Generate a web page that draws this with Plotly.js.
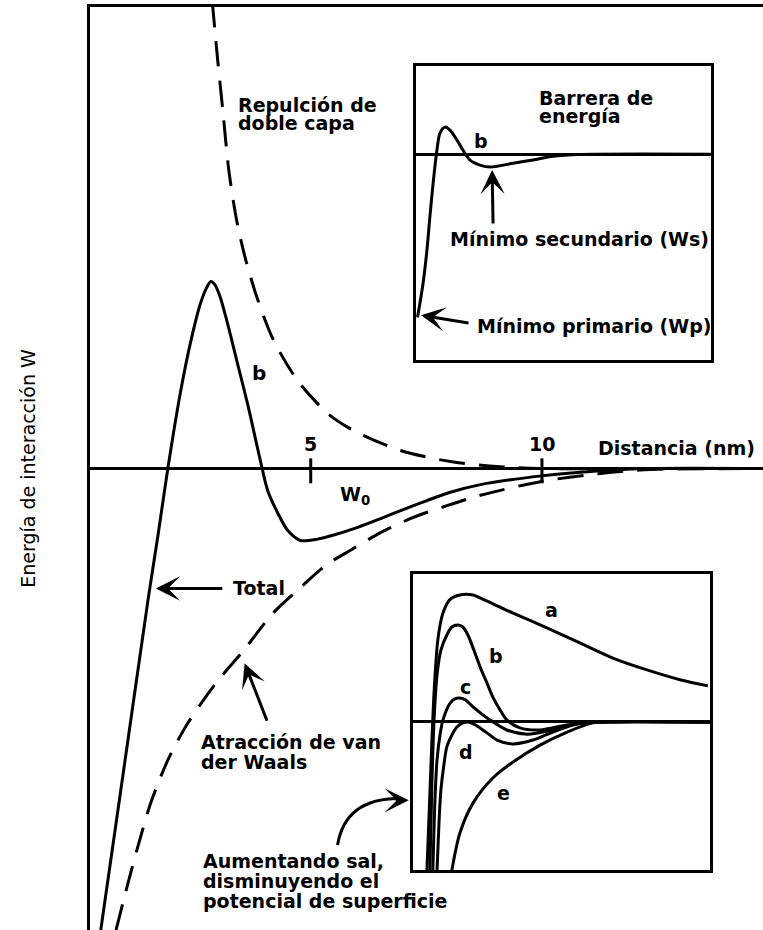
<!DOCTYPE html>
<html>
<head>
<meta charset="utf-8">
<script src="https://cdn.plot.ly/plotly-3.0.1.min.js"></script>
<style>
  html, body { margin: 0; padding: 0; background: #fff; }
  #chart { width: 763px; height: 930px; }
</style>
</head>
<body>
<div id="chart"></div>
<script>
// DLVO interaction energy versus separation distance (nm)

// Total interaction energy (curve b)
const totalX = [0.46, 0.97, 1.48, 1.70, 1.91, 2.19, 2.41, 2.62, 2.75, 2.84, 2.93, 3.04, 3.16, 3.30, 3.42, 3.64, 3.77, 3.92, 4.07, 4.29, 4.50, 4.78, 5.15, 5.50, 6.00, 6.50, 7.00, 7.50, 8.00, 8.67, 9.99, 11.26, 12.34, 14.78];
const totalY = [-10.0, -6.43, -2.86, -1.43, 0.0, 1.69, 2.77, 3.59, 3.92, 4.05, 3.98, 3.72, 3.30, 2.75, 2.26, 1.38, 0.80, 0.13, -0.48, -0.97, -1.34, -1.56, -1.53, -1.44, -1.28, -1.09, -0.89, -0.70, -0.52, -0.35, -0.16, -0.05, 0.0, 0.0];

// Double-layer repulsion
const repulsionX = [2.87, 2.99, 3.10, 3.23, 3.40, 3.60, 3.86, 4.20, 4.72, 5.37, 5.93, 6.94, 8.02, 9.10, 9.97, 14.78];
const repulsionY = [10.13, 8.83, 7.75, 6.45, 5.37, 4.50, 3.64, 2.77, 1.90, 1.19, 0.82, 0.39, 0.15, 0.04, 0.0, 0.0];

// van der Waals attraction
const attractionX = [0.79, 1.05, 1.26, 1.54, 1.91, 2.34, 2.95, 3.55, 4.18, 4.78, 5.32, 5.86, 6.51, 7.22, 7.96, 8.67, 9.99, 11.26, 12.34, 14.78];
const attractionY = [-10.0, -8.98, -8.20, -7.25, -6.32, -5.52, -4.65, -3.94, -3.14, -2.58, -2.10, -1.77, -1.39, -1.06, -0.80, -0.58, -0.28, -0.11, -0.02, 0.0];

// Upper inset: energy barrier, primary and secondary minima
const barrierX = [0.05, 0.24, 0.37, 0.47, 0.58, 0.71, 0.81, 0.98, 1.15, 1.39, 1.59, 1.83, 2.17, 2.51, 3.29, 3.97, 4.64, 5.56, 10.0];
const barrierY = [-5.56, -4.39, -3.27, -2.14, -0.99, 0.14, 0.71, 0.92, 0.82, 0.48, 0.14, -0.20, -0.37, -0.44, -0.31, -0.20, -0.07, -0.01, 0.0];

// Lower inset: curves a-e for increasing salt concentration
const curveAX = [0.47, 0.57, 0.71, 0.84, 1.01, 1.25, 1.58, 2.02, 2.26, 3.37, 4.51, 5.62, 6.73, 7.88, 9.02, 9.93];
const curveAY = [-5.0, -2.40, 1.00, 2.80, 3.68, 4.14, 4.29, 4.29, 4.19, 3.68, 3.18, 2.67, 2.16, 1.76, 1.42, 1.22];
const curveBX = [0.57, 0.64, 0.71, 0.81, 0.94, 1.14, 1.31, 1.52, 1.68, 1.85, 2.05, 2.26, 2.49, 2.69, 2.93, 3.16, 3.60, 4.28, 5.19, 6.06, 10.0];
const curveBY = [-5.0, -1.96, 0.07, 1.59, 2.43, 2.94, 3.21, 3.28, 3.21, 2.94, 2.43, 1.86, 1.32, 0.84, 0.41, 0.07, -0.20, -0.27, -0.10, 0.0, 0.0];
const curveCX = [0.67, 0.74, 0.81, 0.91, 1.01, 1.25, 1.41, 1.58, 1.78, 2.02, 2.59, 3.16, 3.84, 4.71, 5.62, 6.30, 10.0];
const curveCY = [-5.0, -2.64, -1.28, -0.44, 0.07, 0.64, 0.78, 0.81, 0.74, 0.51, 0.07, -0.27, -0.41, -0.27, -0.03, 0.0, 0.0];
const curveDX = [0.81, 0.88, 0.94, 1.04, 1.14, 1.31, 1.48, 1.68, 1.85, 2.05, 2.26, 2.59, 2.83, 3.37, 4.04, 4.71, 5.39, 6.30, 10.0];
const curveDY = [-5.0, -3.31, -2.30, -1.45, -0.84, -0.44, -0.17, -0.03, 0.0, -0.07, -0.20, -0.44, -0.61, -0.74, -0.61, -0.34, -0.10, 0.0, 0.0];
const curveEX = [1.31, 1.58, 2.02, 2.69, 3.37, 4.28, 5.19, 6.06, 6.73, 10.0];
const curveEY = [-5.0, -3.75, -2.74, -1.89, -1.35, -0.78, -0.34, -0.03, 0.0, 0.0];

// Distance axis ticks
const distanceTicks = [5, 10];
const distanceTickLabels = ['5', '10'];

const FONT = 'DejaVu Sans';
const INK = '#000000';
const LW = 3;

function curve(x, y, xaxis, yaxis, dash) {
  return {
    type: 'scatter', mode: 'lines', x: x, y: y,
    xaxis: xaxis, yaxis: yaxis, hoverinfo: 'skip',
    line: { color: INK, width: LW, shape: 'spline', smoothing: 0.8, dash: dash || 'solid' }
  };
}

const traces = [
  curve(repulsionX, repulsionY, 'x', 'y', '26px,14px'),
  curve(attractionX, attractionY, 'x', 'y', '26px,14px'),
  curve(totalX, totalY, 'x', 'y'),
  curve(barrierX, barrierY, 'x2', 'y2'),
  curve(curveAX, curveAY, 'x3', 'y3'),
  curve(curveBX, curveBY, 'x3', 'y3'),
  curve(curveCX, curveCY, 'x3', 'y3'),
  curve(curveDX, curveDY, 'x3', 'y3'),
  curve(curveEX, curveEY, 'x3', 'y3')
];

function text(t, xref, yref, x, y, opts) {
  opts = opts || {};
  return {
    text: t, xref: xref, yref: yref, x: x, y: y,
    xanchor: opts.xanchor || 'left', yanchor: 'middle',
    showarrow: false,
    font: { family: FONT, size: opts.size || 19, color: INK, weight: 'bold' }
  };
}

function arrow(xref, yref, x, y, ax, ay) {
  return {
    text: '', xref: xref, yref: yref, x: x, y: y,
    ax: ax, ay: ay, axref: 'pixel', ayref: 'pixel',
    showarrow: true, arrowhead: 3, arrowsize: 1.35, arrowwidth: LW, arrowcolor: INK
  };
}

const annotations = [
  // main plot
  text('Repulción de', 'x', 'y', 3.38, 7.88),
  text('doble capa', 'x', 'y', 3.38, 7.49),
  text('b', 'x', 'y', 3.88, 2.08, { xanchor: 'center', size: 20 }),
  text('W<sub>0</sub>', 'x', 'y', 5.58, -0.58),
  text('Distancia (nm)', 'x', 'y', 11.16, 0.45),
  text('Total', 'x', 'y', 3.27, -2.58),
  text('Atracción de van', 'x', 'y', 2.58, -5.93),
  text('der Waals', 'x', 'y', 2.58, -6.36),
  text('Aumentando sal,', 'x', 'y', 2.62, -8.51),
  text('disminuyendo el', 'x', 'y', 2.62, -8.94),
  text('potencial de superficie', 'x', 'y', 2.62, -9.37),
  text('0', 'x', 'y', -0.16, 0.0, { xanchor: 'center' }),
  arrow('x', 'y', 1.65, -2.60, 68, 0),
  arrow('x', 'y', 3.57, -4.22, 23, 59),
  arrow('x', 'y', 7.12, -7.19, -12, 0),

  // upper inset
  text('Barrera de', 'x2', 'y2', 4.10, 1.90),
  text('energía', 'x2', 'y2', 4.10, 1.29),
  text('b', 'x2', 'y2', 2.20, 0.44, { xanchor: 'center' }),
  text('0', 'x2', 'y2', -0.54, -0.03, { xanchor: 'center' }),
  text('W', 'x2', 'y2', -0.54, -4.25, { xanchor: 'center' }),
  text('Mínimo secundario (Ws)', 'x2', 'y2', 1.08, -2.89),
  text('Mínimo primario (Wp)', 'x2', 'y2', 2.0, -5.85),
  arrow('x2', 'y2', 2.58, -0.54, 1, 55),
  arrow('x2', 'y2', 0.17, -5.48, 49, 8),

  // lower inset
  text('W', 'x3', 'y3', -0.57, 4.36, { xanchor: 'center' }),
  text('0', 'x3', 'y3', -0.57, 0.17, { xanchor: 'center' }),
  text('a', 'x3', 'y3', 4.68, 3.78, { xanchor: 'center' }),
  text('b', 'x3', 'y3', 2.79, 2.23, { xanchor: 'center' }),
  text('c', 'x3', 'y3', 1.78, 1.18, { xanchor: 'center' }),
  text('d', 'x3', 'y3', 1.78, -1.01, { xanchor: 'center' }),
  text('e', 'x3', 'y3', 3.06, -2.40, { xanchor: 'center' })
];

// tick labels on the distance axis
distanceTicks.forEach(function (v, i) {
  annotations.push(text(distanceTickLabels[i], 'x', 'y', v, 0.54, { xanchor: 'center' }));
});

// tick marks crossing the zero line
const shapes = distanceTicks.map(function (v) {
  return { type: 'line', xref: 'x', yref: 'y', x0: v, x1: v, y0: 0.22, y1: -0.32,
           line: { color: INK, width: LW } };
});

// curved pointer from the salt note into the lower inset
shapes.push({
  type: 'path', xref: 'x', yref: 'y',
  path: 'M 5.58,-8.16 Q 5.75,-7.13 6.95,-7.15',
  line: { color: INK, width: LW }
});

function boxAxis(domain, range) {
  return {
    domain: domain, range: range, showline: true, mirror: true,
    linewidth: LW, linecolor: INK, showgrid: false, zeroline: false,
    showticklabels: false, ticks: '', fixedrange: true
  };
}

const layout = {
  width: 763, height: 930,
  margin: { l: 90, r: 0, t: 7, b: 0 },
  paper_bgcolor: '#ffffff', plot_bgcolor: 'rgba(0,0,0,0)',
  showlegend: false,
  font: { family: FONT, color: INK },
  xaxis: {
    domain: [0, 1], range: [0.227, 14.78], side: 'top',
    showline: true, linewidth: LW, linecolor: INK,
    showgrid: false, zeroline: false, showticklabels: false, ticks: ''
  },
  yaxis: {
    domain: [0, 1], range: [-10, 10],
    showline: true, linewidth: LW, linecolor: INK,
    showgrid: false, zeroline: true, zerolinewidth: LW, zerolinecolor: INK,
    showticklabels: false, ticks: '',
    title: { text: 'Energía de interacción W', font: { family: FONT, size: 19, color: INK }, standoff: 47 }
  },
  xaxis2: Object.assign(boxAxis([0.4844, 0.9227], [0, 10]), { anchor: 'y2' }),
  yaxis2: Object.assign(boxAxis([0.6176, 0.9361], [-7, 3]), { anchor: 'x2', zeroline: true, zerolinewidth: LW, zerolinecolor: INK }),
  xaxis3: Object.assign(boxAxis([0.4799, 0.9212], [0, 10]), { anchor: 'y3' }),
  yaxis3: Object.assign(boxAxis([0.0650, 0.3857], [-5, 5]), { anchor: 'x3', zeroline: true, zerolinewidth: LW, zerolinecolor: INK }),
  annotations: annotations,
  shapes: shapes
};

Plotly.newPlot('chart', traces, layout, { staticPlot: true, displayModeBar: false });
</script>
</body>
</html>
